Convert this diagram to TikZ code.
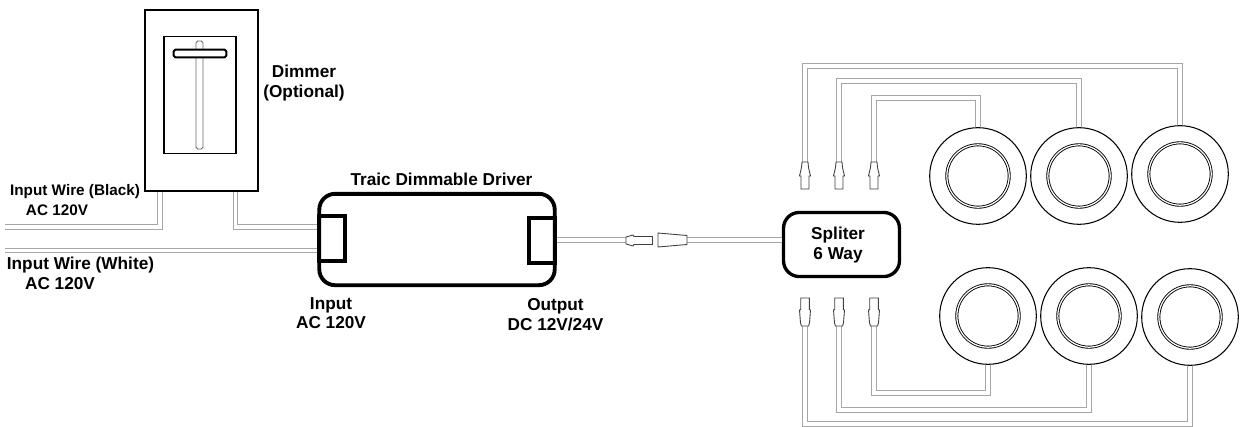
\documentclass[tikz,border=0pt]{standalone}
\usepackage{fontspec}
\setmainfont{Liberation Sans}
\tikzset{
  lbl/.style={inner sep=0pt,align=center,font=\fontsize{9.8}{11}\selectfont\bfseries},
  lblsmall/.style={lbl,font=\fontsize{8.7}{10}\selectfont\bfseries},
  wirepair/.style={draw=black!35,line width=.7pt,double=white,double distance=1.9pt,line join=miter},
  heavybox/.style={draw=black,line width=2.2pt,rounded corners=9pt,fill=white},
  lamprim/.style={circle,draw=black,line width=.6pt,fill=white,minimum size=55pt,inner sep=0pt},
  lampcore/.style={circle,draw=black,line width=.5pt,double=white,double distance=.7pt,minimum size=35.5pt,inner sep=0pt},
  plugspot/.style={inner sep=0pt,minimum width=7pt,minimum height=15.5pt},
  plugline/.style={draw=black!75,line width=.5pt,fill=white},
}
\begin{document}
\begin{tikzpicture}[x=0.02cm,y=-0.02cm]
  \useasboundingbox (0,0) rectangle (1240,426);
  % boxes
  \node[draw,line width=.9pt,minimum width=64pt,minimum height=103pt,inner sep=0pt,fill=white] (plate) at (201.5,100.5) {};
  \node[draw,line width=.7pt,minimum width=41pt,minimum height=67pt,inner sep=0pt] (recess) at (200,95) {};
  \node[draw=black!60,line width=.5pt,rounded corners=1pt,minimum width=4pt,minimum height=61.5pt,inner sep=0pt] (slot) at (199.5,95) {};
  \node[draw,line width=1.1pt,rounded corners=1pt,fill=white,minimum width=30pt,minimum height=4.5pt,inner sep=0pt] (knob) at (200,53.5) {};
  \node[heavybox,minimum width=134pt,minimum height=52pt,inner sep=0pt] (driver) at (437,239.5) {};
  \node[draw,line width=2.2pt,minimum width=15pt,minimum height=26pt,inner sep=0pt,anchor=west] (inbox) at (317,238.5) {};
  \node[draw,line width=2.2pt,minimum width=15pt,minimum height=26pt,inner sep=0pt,anchor=east] (outbox) at (557,240.5) {};
  \node[heavybox,line width=1.9pt,minimum width=66pt,minimum height=36.5pt,inner sep=0pt] (split) at (841.5,244.5) {};
  % free wire ends and turning points
  \coordinate (blackin) at (5,227);
  \coordinate (whitein) at (5,250.5);
  \coordinate (blackbend) at (160,227);
  \coordinate (dimbend) at (235.5,227);
  \draw[wirepair] (blackin) -- (blackbend) -- (blackbend |- plate.south);
  \draw[wirepair] (dimbend |- plate.south) -- (dimbend) -- (dimbend -| driver.west);
  \draw[wirepair] (whitein) -- (whitein -| driver.west);
  % connector between driver and splitter
  \node[plugspot,minimum width=15.5pt,minimum height=6pt] (malejack) at (639.5,240) {};
  \node[plugspot,minimum width=16.5pt,minimum height=8pt] (femalejack) at (672.5,240) {};
  \draw[wirepair] (driver.east |- malejack) -- (malejack.west);
  \draw[wirepair] (femalejack.east) -- (femalejack.east -| split.west);
  \draw[plugline] (malejack.center) ++(-13.5,-3) -- ++(7,-2) -- ++(1,1.5) -- ++(18.5,0) -- ++(0,8) -- ++(-18.5,0) -- ++(-1,1.5) -- ++(-7,-2) -- cycle;
  \draw[plugline] (femalejack.center) ++(-14.5,-7) -- ++(29,2.5) -- ++(0,9) -- ++(-29,2.5) -- cycle;
  % lamps
  \foreach \n/\x/\y in {lampa/978/176,lampb/1079/176,lampc/1180/174,lampd/988/316,lampe/1089/316,lampf/1190/317}{
    \node[lamprim] (\n) at (\x,\y) {};
    \node[lampcore] (\n core) at (\x,\y) {};
  }
  % plugs above the splitter
  \foreach \n/\x/\l/\y in {plugc/874/lampa/98,plugb/839/lampb/81,pluga/805/lampc/66}{
    \node[plugspot] (\n) at (\x,175.5) {};
    \draw[wirepair] (\n.north) -- (\n.north |- 0,\y) -| (\l.north);
    \draw[plugline] (\n.center) ++(-4,13.5) -- ++(8,0) -- ++(0,-13) -- ++(1.5,0) -- ++(-2,-8.5) -- ++(-.5,-5.5) -- ++(-6,0) -- ++(-.5,5.5) -- ++(-2,8.5) -- ++(1.5,0) -- cycle;
  }
  % plugs below the splitter
  \foreach \n/\x/\l/\y in {plugf/874/lampd/393,pluge/839/lampe/410,plugd/805/lampf/424}{
    \node[plugspot] (\n) at (\x,312) {};
    \draw[wirepair] (\n.south) -- (\n.south |- 0,\y) -| (\l.south);
    \draw[plugline] (\n.center) ++(-4.3,-14) -- ++(8.6,0) -- ++(0,11.5) -- ++(1.2,.5) -- ++(-1,13) -- ++(-1,3) -- ++(-7,0) -- ++(-1,-3) -- ++(-1,-13) -- ++(1.2,-.5) -- cycle;
  }
  % labels
  \node[lbl] (dimmerlbl) at (304,83) {Dimmer\\(Optional)};
  \node[lblsmall] (blacklbl) at (75,192) {Input Wire (Black)};
  \node[lblsmall] (blackac) at (57,210) {AC 120V};
  \node[lbl] (whitelbl) at (80.5,265) {Input Wire (White)};
  \node[lbl] (whiteac) at (60,284) {AC 120V};
  \node[lbl] (driverlbl) at (441.5,179) {Traic Dimmable Driver};
  \node[lbl] (inputlbl) at (331,313) {Input\\AC 120V};
  \node[lbl] (outputlbl) at (555.5,314.5) {Output\\DC 12V/24V};
  \node[lbl] (splitlbl) at (838,245) {Spliter\\6 Way};
\end{tikzpicture}
\end{document}
